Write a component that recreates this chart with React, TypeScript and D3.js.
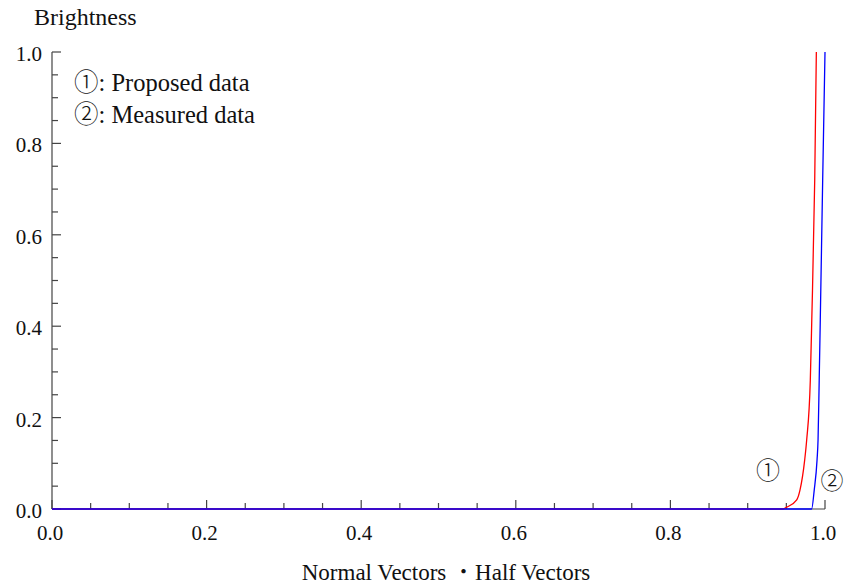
import React from "react";
import * as d3 from "d3";

// ---- data ----
const proposedX = [0, 0.9457, 0.9505, 0.9634, 0.9677, 0.9737, 0.9763, 0.981, 0.9829, 0.9867, 0.9888];
const proposedY = [0, 0, 0.004, 0.02, 0.042, 0.107, 0.151, 0.282, 0.414, 0.72, 1.0];
const measuredX = [0, 0.9827, 0.9861, 0.9897, 0.991, 0.9925, 0.9939, 0.997, 1.0];
const measuredY = [0, 0, 0.042, 0.107, 0.151, 0.282, 0.414, 0.72, 1.0];

const xTickLabels = ["0.0", "0.2", "0.4", "0.6", "0.8", "1.0"];
const yTickLabels = ["0.0", "0.2", "0.4", "0.6", "0.8", "1.0"];
const legendMarks = ["\u2460", "\u2461"];
const legendLabels = [": Proposed data", ": Measured data"];
const curveMarks = ["\u2460", "\u2461"];
const yTitle = "Brightness";
const xTitleA = "Normal Vectors ";
const xTitleDot = "\u30FB";
const xTitleB = "Half Vectors";

const W = 845;
const H = 587;
const FONT = "Liberation Serif, Times New Roman, serif";
const CJK = "Noto Sans CJK JP, sans-serif";
const AXIS = "#444";
const TXT = "#111";

export default function App() {
  const x = d3.scaleLinear().domain([0, 1]).range([52, 825]);
  const y = d3.scaleLinear().domain([0, 1]).range([509, 52]);

  const line = d3
    .line<[number, number]>()
    .x((d) => x(d[0]))
    .y((d) => y(d[1]))
    .curve(d3.curveMonotoneX);

  const proposed = proposedX.map((v, i) => [v, proposedY[i]] as [number, number]);
  const measured = measuredX.map((v, i) => [v, measuredY[i]] as [number, number]);

  const majorVals = xTickLabels.map((s) => +s);
  const minorVals = x.ticks(20).filter((v) => !majorVals.some((m) => Math.abs(m - v) < 1e-9));
  const yMajorVals = yTickLabels.map((s) => +s);
  const yMinorVals = y.ticks(20).filter((v) => !yMajorVals.some((m) => Math.abs(m - v) < 1e-9));

  const ts = { fontFamily: FONT };
  const cs = { fontFamily: CJK, fontWeight: 300 };

  return (
    <svg
      width={W}
      height={H}
      style={{ position: "absolute", left: 0, top: 0, background: "#fff", fontFamily: FONT }}
    >
      <rect x={0} y={0} width={W} height={H} fill="#fff" />
      {/* y title */}
      <text x={34} y={25} fontSize={24} fill={TXT} style={ts}>
        {yTitle}
      </text>

      {/* axes */}
      <line x1={x(0)} x2={x(0)} y1={y(1)} y2={y(0)} stroke={AXIS} strokeWidth={1.2} />
      <line x1={x(0)} x2={x(1)} y1={y(0)} y2={y(0)} stroke={AXIS} strokeWidth={1.2} />

      {/* y ticks */}
      {yMajorVals.map((v) => (
        <line key={"ym" + v} x1={x(0)} x2={x(0) + 9} y1={y(v)} y2={y(v)} stroke={AXIS} strokeWidth={1.2} />
      ))}
      {yMinorVals.map((v) => (
        <line key={"yn" + v} x1={x(0)} x2={x(0) + 6} y1={y(v)} y2={y(v)} stroke={AXIS} strokeWidth={1.2} />
      ))}
      {yTickLabels.map((s) => (
        <text key={"yl" + s} x={x(0) - 10} y={y(+s) + 9} fontSize={21} textAnchor="end" fill={TXT} style={ts}>
          {s}
        </text>
      ))}

      {/* x ticks */}
      {majorVals.map((v) => (
        <line key={"xm" + v} x1={x(v)} x2={x(v)} y1={y(0)} y2={y(0) - 9} stroke={AXIS} strokeWidth={1.2} />
      ))}
      {minorVals.map((v) => (
        <line key={"xn" + v} x1={x(v)} x2={x(v)} y1={y(0)} y2={y(0) - 6} stroke={AXIS} strokeWidth={1.2} />
      ))}
      {xTickLabels.map((s) => (
        <text key={"xl" + s} x={x(+s) - 2} y={y(0) + 31} fontSize={21} textAnchor="middle" fill={TXT} style={ts}>
          {s}
        </text>
      ))}

      {/* x title */}
      <text x={446} y={580} fontSize={23} textAnchor="middle" fill={TXT} style={ts}>
        {xTitleA}
        <tspan style={cs}>{xTitleDot}</tspan>
        {xTitleB}
      </text>

      {/* curves */}
      <path d={line(proposed) || ""} fill="none" stroke="#ff0000" strokeWidth={1.3} />
      <path d={line(measured) || ""} fill="none" stroke="#0000ff" strokeWidth={1.3} />

      {/* legend */}
      {legendLabels.map((s, i) => (
        <text key={"lg" + i} x={74} y={91 + i * 32} fontSize={24.5} fill={TXT} style={ts}>
          <tspan style={cs}>{legendMarks[i]}</tspan>
          {s}
        </text>
      ))}

      {/* curve marks */}
      <text x={768} y={479} fontSize={24} textAnchor="middle" fill={TXT} style={cs}>
        {curveMarks[0]}
      </text>
      <text x={832} y={489} fontSize={23} textAnchor="middle" fill={TXT} style={cs}>
        {curveMarks[1]}
      </text>
    </svg>
  );
}
